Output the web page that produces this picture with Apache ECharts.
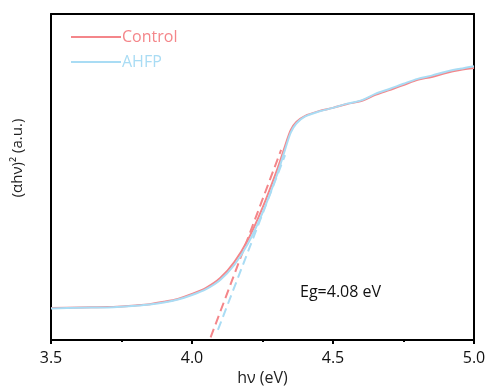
<!DOCTYPE html>
<html>
<head>
<meta charset="utf-8">
<script src="https://cdn.jsdelivr.net/npm/echarts@6/dist/echarts.min.js"></script>
<style>
  html, body { margin: 0; padding: 0; background: #fff; }
  #chart { width: 491px; height: 387px; }
</style>
</head>
<body>
<div id="chart"></div>
<script>
// photon energy (eV)
const energy = [3.5, 3.6, 3.7, 3.75, 3.8, 3.85, 3.9, 3.95, 4.0, 4.05, 4.1, 4.15, 4.2, 4.25, 4.3, 4.33, 4.35, 4.37, 4.4, 4.45, 4.5, 4.55, 4.6, 4.65, 4.7, 4.75, 4.8, 4.85, 4.9, 4.95, 5.0];
const control = [0.098, 0.100, 0.101, 0.103, 0.106, 0.110, 0.117, 0.126, 0.141, 0.160, 0.190, 0.239, 0.310, 0.405, 0.518, 0.595, 0.644, 0.669, 0.687, 0.702, 0.712, 0.724, 0.733, 0.752, 0.767, 0.782, 0.798, 0.807, 0.819, 0.828, 0.834];
const ahfp = [0.097, 0.099, 0.100, 0.102, 0.105, 0.109, 0.115, 0.124, 0.138, 0.156, 0.184, 0.230, 0.298, 0.390, 0.503, 0.584, 0.636, 0.664, 0.685, 0.701, 0.712, 0.725, 0.735, 0.755, 0.770, 0.786, 0.801, 0.811, 0.823, 0.832, 0.840];
// tangent (Tauc) lines, [eV, value] ends
const controlFit = [[4.066, 0.008], [4.316, 0.583]];
const ahfpFit = [[4.092, 0.031], [4.330, 0.567]];
const xTicks = [3.5, 4.0, 4.5, 5.0];

const RED = '#f4868a', BLUE = '#a9dcf4';
const FONT = 'Open Sans';

let chart = echarts.init(document.getElementById('chart'));
chart.setOption({
  animation: false,
  textStyle: { fontFamily: FONT },
  grid: { left: 51, right: 17, top: 14, bottom: 47, outerBoundsMode: 'none' },
  legend: {
    left: 66, top: 24, orient: 'vertical', itemWidth: 50, itemHeight: 10, itemGap: 9,
    icon: 'path://M0,4L50,4L50,6L0,6Z',
    textStyle: { fontSize: 16, fontFamily: FONT, padding: [0, 0, 0, -4] },
    data: [
      { name: 'Control', textStyle: { color: RED } },
      { name: 'AHFP', textStyle: { color: BLUE } }
    ]
  },
  xAxis: [{
    type: 'value', min: 3.5, max: 5.0, interval: 0.5,
    name: 'hν (eV)', nameLocation: 'middle', nameGap: 30,
    nameTextStyle: { fontSize: 16, color: '#222', fontFamily: FONT },
    axisLine: { lineStyle: { color: '#000', width: 2 } },
    axisTick: { length: 4, lineStyle: { color: '#000', width: 2 } },
    minorTick: { show: true, splitNumber: 2, length: 2, lineStyle: { color: '#000', width: 2 } },
    splitLine: { show: false },
    axisLabel: {
      fontSize: 16, color: '#111', margin: 10, fontFamily: FONT,
      formatter: v => xTicks.includes(v) ? v.toFixed(1) : ''
    }
  }, {
    type: 'value', position: 'top', min: 3.5, max: 5.0,
    axisLine: { show: true, onZero: false, lineStyle: { color: '#000', width: 2 } },
    axisTick: { show: false }, axisLabel: { show: false }, splitLine: { show: false }
  }],
  yAxis: [{
    type: 'value', min: 0, max: 1,
    axisLine: { show: true, lineStyle: { color: '#000', width: 2 } },
    axisTick: { show: false }, axisLabel: { show: false }, splitLine: { show: false }
  }, {
    type: 'value', position: 'right', min: 0, max: 1,
    axisLine: { show: true, onZero: false, lineStyle: { color: '#000', width: 2 } },
    axisTick: { show: false }, axisLabel: { show: false }, splitLine: { show: false }
  }],
  graphic: [
    { type: 'text', left: 300, top: 284, style: { text: 'Eg=4.08 eV', fontSize: 16, fill: '#111', fontFamily: FONT } },
    { type: 'text', x: 18, y: 158, rotation: Math.PI / 2,
      style: { text: '(αhν)² (a.u.)', fontSize: 15, fill: '#222', fontFamily: FONT, align: 'center', verticalAlign: 'middle' } }
  ],
  series: [
    { name: 'Control', type: 'line', data: energy.map((e, i) => [e, control[i]]), showSymbol: false, smooth: 0.3,
      color: RED, lineStyle: { width: 2, color: RED } },
    { name: 'Control fit', type: 'line', data: controlFit, showSymbol: false,
      lineStyle: { width: 2, color: RED, type: [9, 5] } },
    { name: 'AHFP', type: 'line', data: energy.map((e, i) => [e, ahfp[i]]), showSymbol: false, smooth: 0.3,
      color: BLUE, lineStyle: { width: 2, color: BLUE } },
    { name: 'AHFP fit', type: 'line', data: ahfpFit, showSymbol: false,
      lineStyle: { width: 2, color: BLUE, type: [9, 5] } }
  ]
});
</script>
</body>
</html>
